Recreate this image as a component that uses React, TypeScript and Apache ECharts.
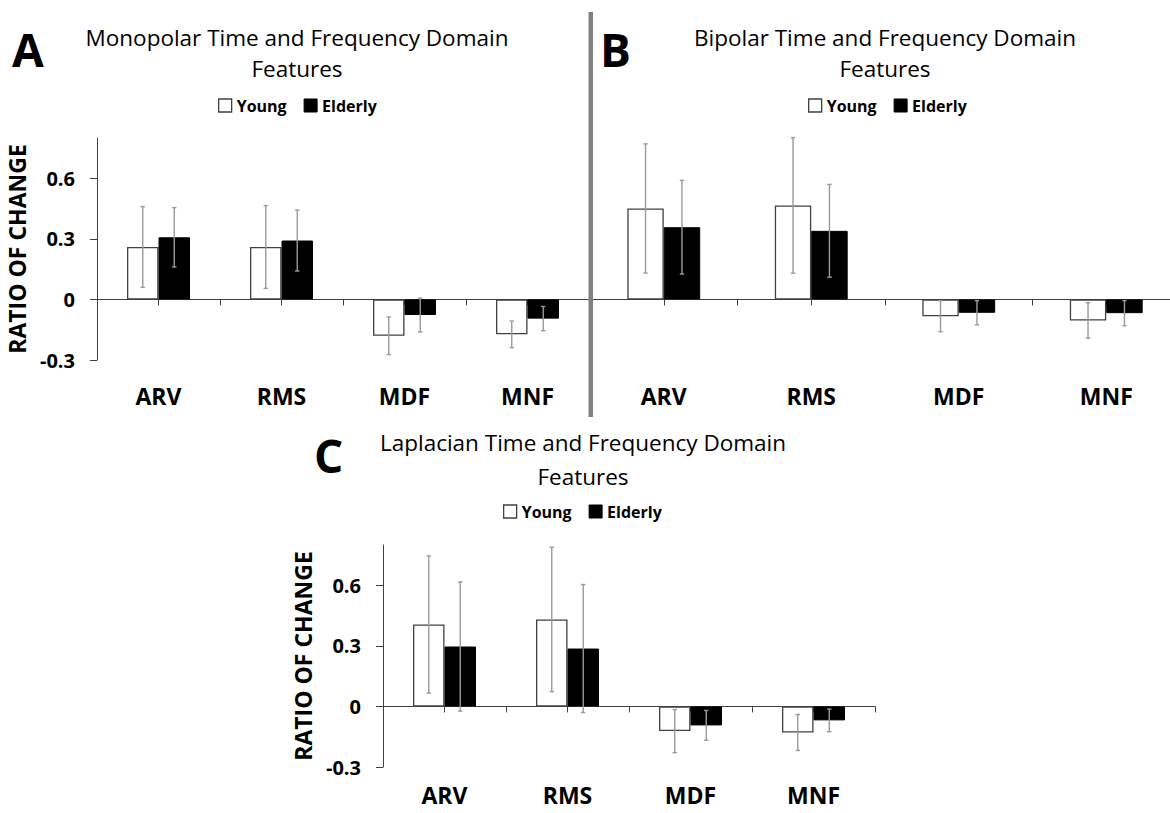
import React, { useEffect, useRef } from "react";
import * as echarts from "echarts";

// ---- data ----
const categories = ["ARV", "RMS", "MDF", "MNF"];
const yTickValues = [-0.3, 0, 0.3, 0.6];
const seriesNames = ["Young", "Elderly"];
const panelLetters = ["A", "B", "C"];
const panelTitles = [
  "Monopolar Time and Frequency Domain\nFeatures",
  "Bipolar Time and Frequency Domain\nFeatures",
  "Laplacian Time and Frequency Domain\nFeatures",
];
const yAxisName = "RATIO OF CHANGE";

const monoYoung = [0.26, 0.26, -0.18, -0.173];
const monoYoungErr = [0.2, 0.205, 0.093, 0.066];
const monoElderly = [0.308, 0.292, -0.077, -0.095];
const monoElderlyErr = [0.147, 0.151, 0.084, 0.06];

const bipYoung = [0.451, 0.466, -0.083, -0.104];
const bipYoungErr = [0.32, 0.336, 0.077, 0.088];
const bipElderly = [0.358, 0.34, -0.066, -0.068];
const bipElderlyErr = [0.232, 0.23, 0.06, 0.062];

const lapYoung = [0.406, 0.431, -0.122, -0.129];
const lapYoungErr = [0.34, 0.358, 0.107, 0.089];
const lapElderly = [0.297, 0.287, -0.094, -0.069];
const lapElderlyErr = [0.32, 0.317, 0.074, 0.056];

const panelData = [
  { young: monoYoung, youngErr: monoYoungErr, elderly: monoElderly, elderlyErr: monoElderlyErr },
  { young: bipYoung, youngErr: bipYoungErr, elderly: bipElderly, elderlyErr: bipElderlyErr },
  { young: lapYoung, youngErr: lapYoungErr, elderly: lapElderly, elderlyErr: lapElderlyErr },
];

// ---- layout / style ----
const FONT = '"Open Sans", "DejaVu Sans", sans-serif';
const AXIS_COLOR = "#404040";
const ERR_COLOR = "#9a9a9a";

const layouts = [
  { grid: { left: 97, top: 138, width: 492, height: 222 }, barRatio: 0.256, showY: true, labelMargin: 24,
    letter: { x: 12, y: 48.5 }, title: { x: 297, y: 52.5, lh: 31 }, legend: { left: 218, top: 97.5 } },
  { grid: { left: 590, top: 138, width: 590, height: 222 }, barRatio: 0.247, showY: false, labelMargin: 24,
    letter: { x: 600, y: 49 }, title: { x: 885, y: 52.5, lh: 31 }, legend: { left: 808, top: 97.5 } },
  { grid: { left: 383, top: 545, width: 492, height: 222 }, barRatio: 0.256, showY: true, labelMargin: 16,
    letter: { x: 314, y: 455 }, title: { x: 583, y: 459, lh: 34 }, legend: { left: 503, top: 503.5 } },
];

function errRender(side: number, ratio: number) {
  return (params: any, api: any) => {
    const x = api.value(0);
    const v = api.value(1);
    const e = api.value(2);
    const band = api.size([1, 0])[0];
    const off = (side * band * ratio) / 2;
    const top = api.coord([x, v + e]);
    const bot = api.coord([x, v - e]);
    const cx = top[0] + off;
    const cap = 2.2;
    const style = { stroke: ERR_COLOR, lineWidth: 1.4 };
    return {
      type: "group",
      children: [
        { type: "line", shape: { x1: cx, y1: top[1], x2: cx, y2: bot[1] }, style },
        { type: "line", shape: { x1: cx - cap, y1: top[1], x2: cx + cap, y2: top[1] }, style },
        { type: "line", shape: { x1: cx - cap, y1: bot[1], x2: cx + cap, y2: bot[1] }, style },
      ],
    };
  };
}

function buildOption() {
  const grid: any[] = [];
  const xAxis: any[] = [];
  const yAxis: any[] = [];
  const series: any[] = [];
  const legend: any[] = [];
  const graphic: any[] = [];

  layouts.forEach((L, i) => {
    grid.push({ ...L.grid, containLabel: false, outerBoundsMode: "none" });
    xAxis.push({
      type: "category",
      gridIndex: i,
      data: categories,
      position: "bottom",
      axisLine: { onZero: true, lineStyle: { color: AXIS_COLOR, width: 1 } },
      axisTick: { show: true, interval: 0, length: 6, lineStyle: { color: AXIS_COLOR, width: 1 } },
      axisLabel: { interval: 0, margin: L.labelMargin, fontFamily: FONT, fontWeight: "bold", fontSize: 23, color: "#000" },
      splitLine: { show: false },
    });
    xAxis.push({
      type: "category",
      gridIndex: i,
      data: categories,
      position: "top",
      axisLine: { show: false, onZero: true, onZeroAxisIndex: i },
      axisTick: { show: true, inside: true, alignWithLabel: true, interval: 0, length: 6, lineStyle: { color: AXIS_COLOR, width: 1 } },
      axisLabel: { show: false },
      splitLine: { show: false },
    });
    yAxis.push({
      type: "value",
      gridIndex: i,
      min: -0.3,
      max: 0.8,
      splitLine: { show: false },
      axisLine: { show: L.showY, lineStyle: { color: AXIS_COLOR, width: 1 } },
      axisTick: { show: L.showY, length: 7, customValues: yTickValues, lineStyle: { color: AXIS_COLOR, width: 1 } },
      axisLabel: { show: L.showY, customValues: yTickValues, margin: 22, fontFamily: FONT, fontWeight: "bold", fontSize: 20, color: "#000" },
      name: L.showY ? yAxisName : "",
      nameLocation: "middle",
      nameGap: 69,
      nameTextStyle: { fontFamily: FONT, fontWeight: "bold", fontSize: 23, color: "#000" },
    });

    const d = panelData[i];
    const pct = (L.barRatio * 100).toFixed(1) + "%";
    series.push({
      type: "bar", name: seriesNames[0], xAxisIndex: 2 * i, yAxisIndex: i, data: d.young,
      barWidth: pct, barGap: "0%",
      itemStyle: { color: "#ffffff", borderColor: AXIS_COLOR, borderWidth: 1.3 },
    });
    series.push({
      type: "bar", name: seriesNames[1], xAxisIndex: 2 * i, yAxisIndex: i, data: d.elderly,
      barWidth: pct, barGap: "0%",
      itemStyle: { color: "#000000", borderColor: "#000000", borderWidth: 1 },
    });
    series.push({
      type: "custom", name: "err-young-" + i, xAxisIndex: 2 * i, yAxisIndex: i, z: 10, silent: true,
      data: categories.map((_, k) => [k, d.young[k], d.youngErr[k]]),
      encode: { x: 0, y: 1 },
      renderItem: errRender(-1, L.barRatio),
    });
    series.push({
      type: "custom", name: "err-elderly-" + i, xAxisIndex: 2 * i, yAxisIndex: i, z: 10, silent: true,
      data: categories.map((_, k) => [k, d.elderly[k], d.elderlyErr[k]]),
      encode: { x: 0, y: 1 },
      renderItem: errRender(1, L.barRatio),
    });

    legend.push({
      left: L.legend.left,
      top: L.legend.top,
      padding: 0,
      orient: "horizontal",
      icon: "rect",
      itemWidth: 13,
      itemHeight: 13,
      itemGap: 17,
      selectedMode: false,
      data: [
        { name: seriesNames[0], itemStyle: { color: "#ffffff", borderColor: AXIS_COLOR, borderWidth: 1.3 } },
        { name: seriesNames[1], itemStyle: { color: "#000000", borderColor: "#000000", borderWidth: 1 } },
      ],
      textStyle: { fontFamily: FONT, fontWeight: "bold", fontSize: 16, color: "#000" },
    });

    graphic.push({
      type: "text",
      x: L.letter.x,
      y: L.letter.y,
      style: { text: panelLetters[i], fontFamily: FONT, fontWeight: "bold", fontSize: 46, fill: "#000", align: "left", verticalAlign: "middle" },
    });
    graphic.push({
      type: "text",
      x: L.title.x,
      y: L.title.y,
      style: { text: panelTitles[i], fontFamily: FONT, fontSize: 22.5, lineHeight: L.title.lh, fill: "#000", align: "center", verticalAlign: "middle" },
    });
  });

  graphic.push({
    type: "rect",
    z: 100,
    shape: { x: 588.5, y: 12, width: 4.5, height: 405 },
    style: { fill: "#808080" },
  });

  return {
    animation: false,
    backgroundColor: "#ffffff",
    grid,
    xAxis,
    yAxis,
    legend,
    series,
    graphic,
  };
}

export default function App() {
  const ref = useRef<HTMLDivElement>(null);
  useEffect(() => {
    if (!ref.current) return;
    const chart = echarts.init(ref.current, undefined, { renderer: "svg" });
    chart.setOption(buildOption() as any);
    return () => chart.dispose();
  }, []);
  return (
    <div
      ref={ref}
      style={{ position: "absolute", left: 0, top: 0, width: 1170, height: 813, background: "#fff" }}
    />
  );
}
